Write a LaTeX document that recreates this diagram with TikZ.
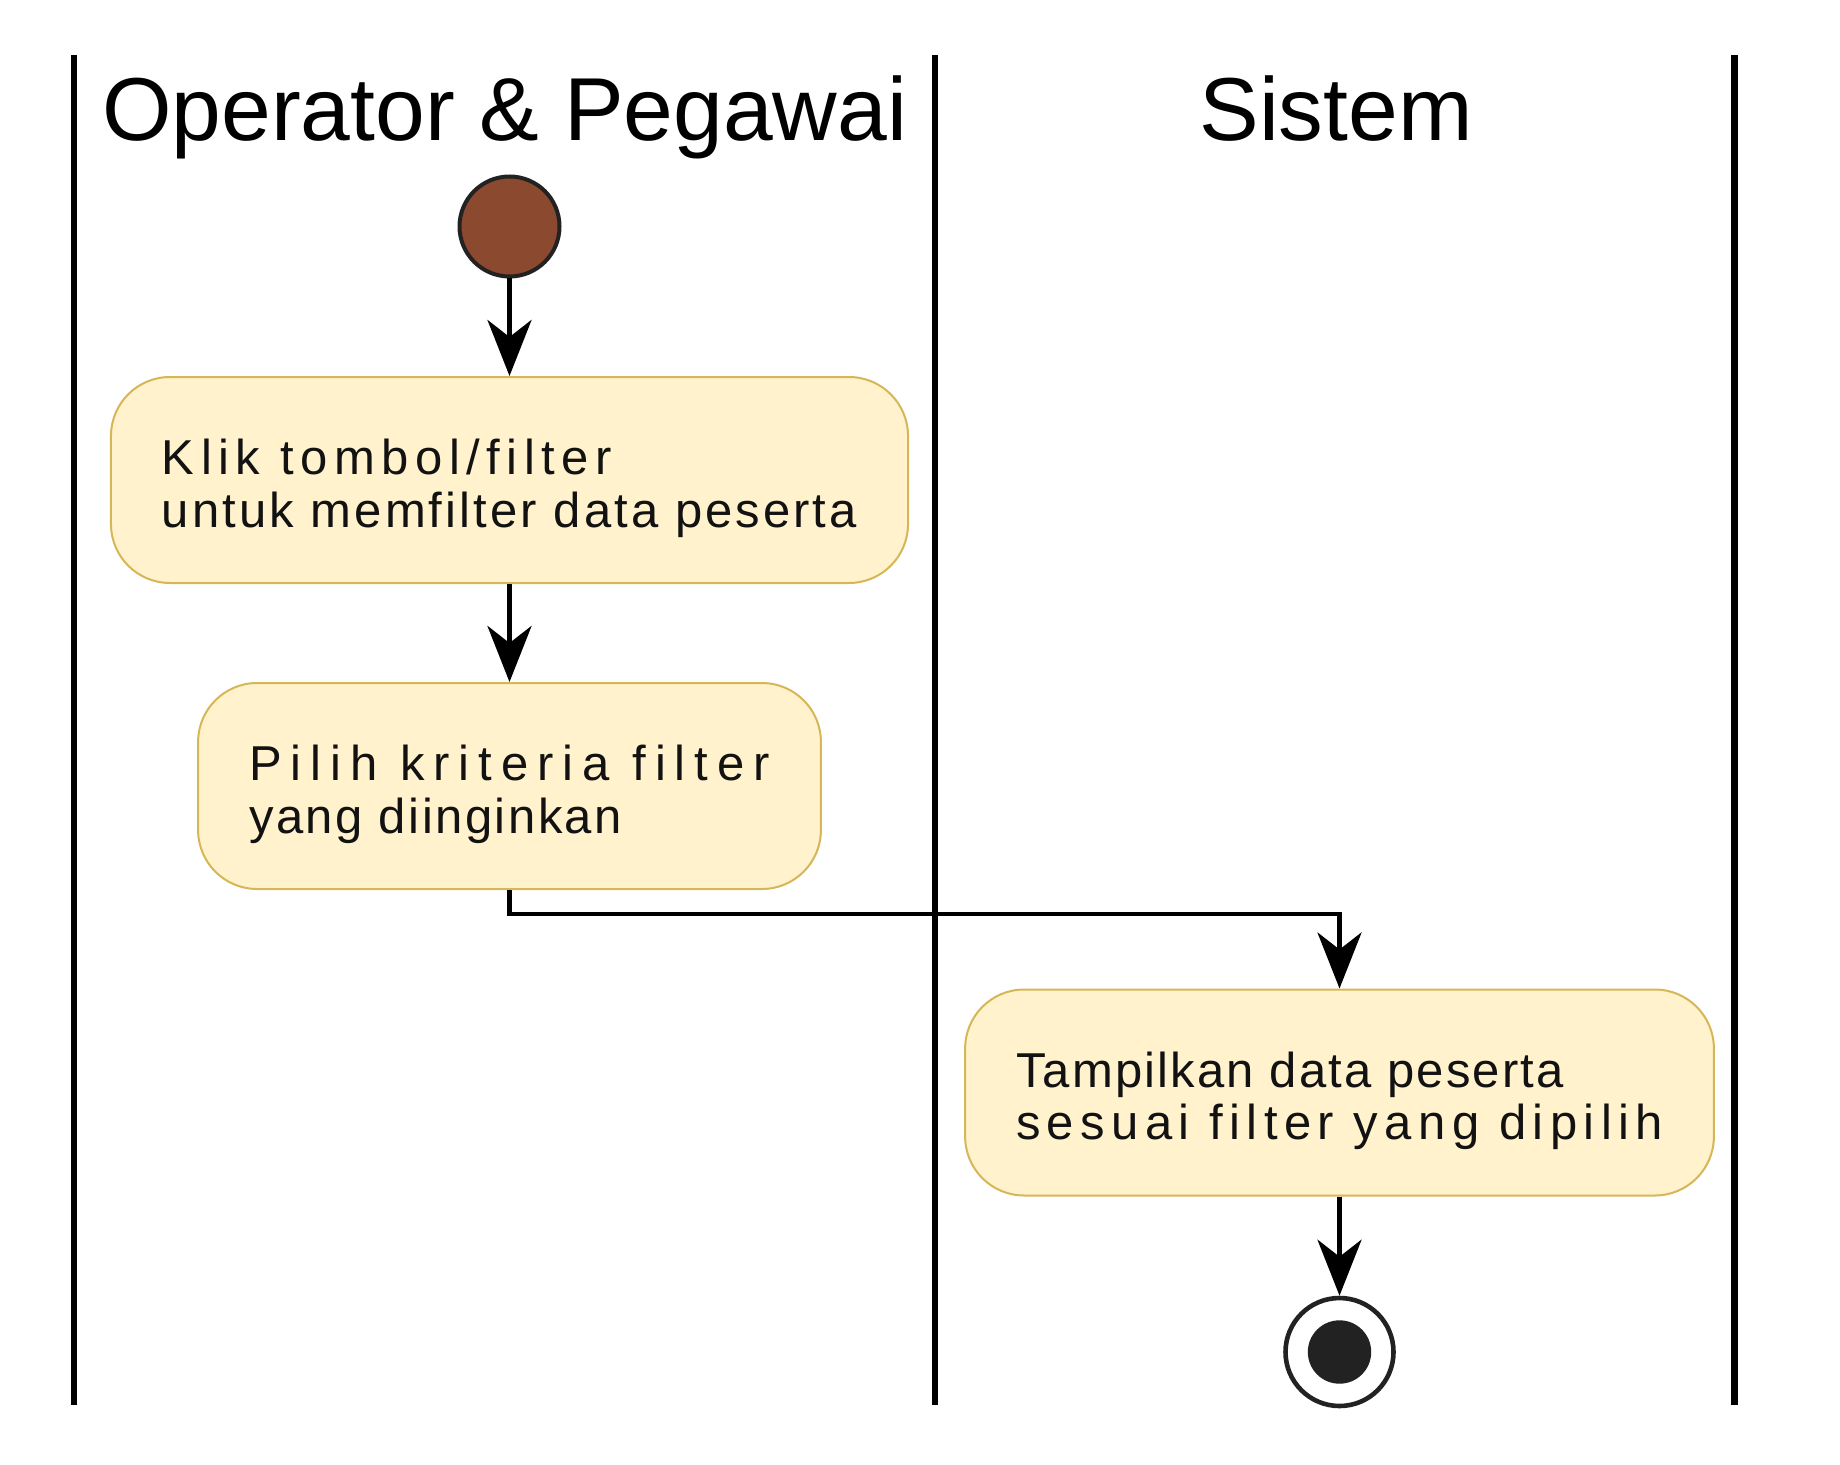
\documentclass[tikz,border=0pt]{standalone}
\usepackage{fontspec}
\setmainfont{Liberation Sans}
\usetikzlibrary{arrows.meta}
\definecolor{actfill}{HTML}{FFF2CC}
\definecolor{actdraw}{HTML}{D6B656}
\definecolor{startbrown}{HTML}{8B4A2F}
\definecolor{umldark}{HTML}{222222}
\newcommand{\tracked}[2]{{\addfontfeature{LetterSpace=#1}#2}}
\newcommand{\toprule}{\rule{0pt}{26pt}}
\tikzstyle{activity} = [rectangle, rounded corners=29.5pt, draw=actdraw, fill=actfill, line width=1pt, align=left, inner xsep=25.5pt, minimum height=103pt, text=black!93, font=\fontsize{24.5}{26.4}\selectfont]
\tikzstyle{arrow} = [line width=2.4pt, -{Stealth[length=28pt, width=22pt, inset=8.5pt]}]
\tikzstyle{lane} = [line width=3.2pt]
\tikzstyle{lanetitle} = [anchor=base, inner sep=0pt, font=\fontsize{44.7}{50}\selectfont]
\tikzstyle{startnode} = [circle, draw=umldark, fill=startbrown, line width=2pt, minimum size=50pt, inner sep=0pt]
\tikzstyle{endnode} = [circle, draw=umldark, fill=white, line width=2.3pt, minimum size=54pt, inner sep=0pt]

\begin{document}
\begin{tikzpicture}[x=0.5pt, y=-0.5pt]
\useasboundingbox (0,0) rectangle (1840,1465);

% Swimlanes
\foreach \lx in {74, 935, 1734.5}
  \draw [lane] (\lx,55) -- (\lx,1405);
\node (lanepegawai) [lanetitle] at (504.6,141) {Operator \& Pegawai};
\node (lanesistem) [lanetitle] at (1336,141) {Sistem};

% Start and activities
\node (start) [startnode] at (509.5,226.5) {};
\node (klik) [activity] at (509.5,480) {\toprule\tracked{13.3}{Klik tombol/filter}\\\tracked{6.3}{untuk memfilter data peserta}};
\node (pilih) [activity] at (509.5,786) {\toprule\tracked{18.3}{Pilih kriteria filter}\\\tracked{5.1}{yang diinginkan}};
\node (tampil) [activity] at (1339.5,1092.5) {\toprule\tracked{4.4}{Tampilkan data peserta}\\\tracked{13}{sesuai filter yang dipilih}};

% End node
\node (finish) [endnode] at (1339.5,1352) {};
\node (finishdot) [circle, fill=umldark, minimum size=31.7pt, inner sep=0pt] at (finish) {};

% Arrows
\coordinate (elbow) at (0,914);
\draw [arrow] (start) -- (klik);
\draw [arrow] (klik) -- (pilih);
\draw [arrow] (pilih.south) |- (elbow -| tampil.north) -- (tampil.north);
\draw [arrow] (tampil) -- (finish);

\end{tikzpicture}
\end{document}
